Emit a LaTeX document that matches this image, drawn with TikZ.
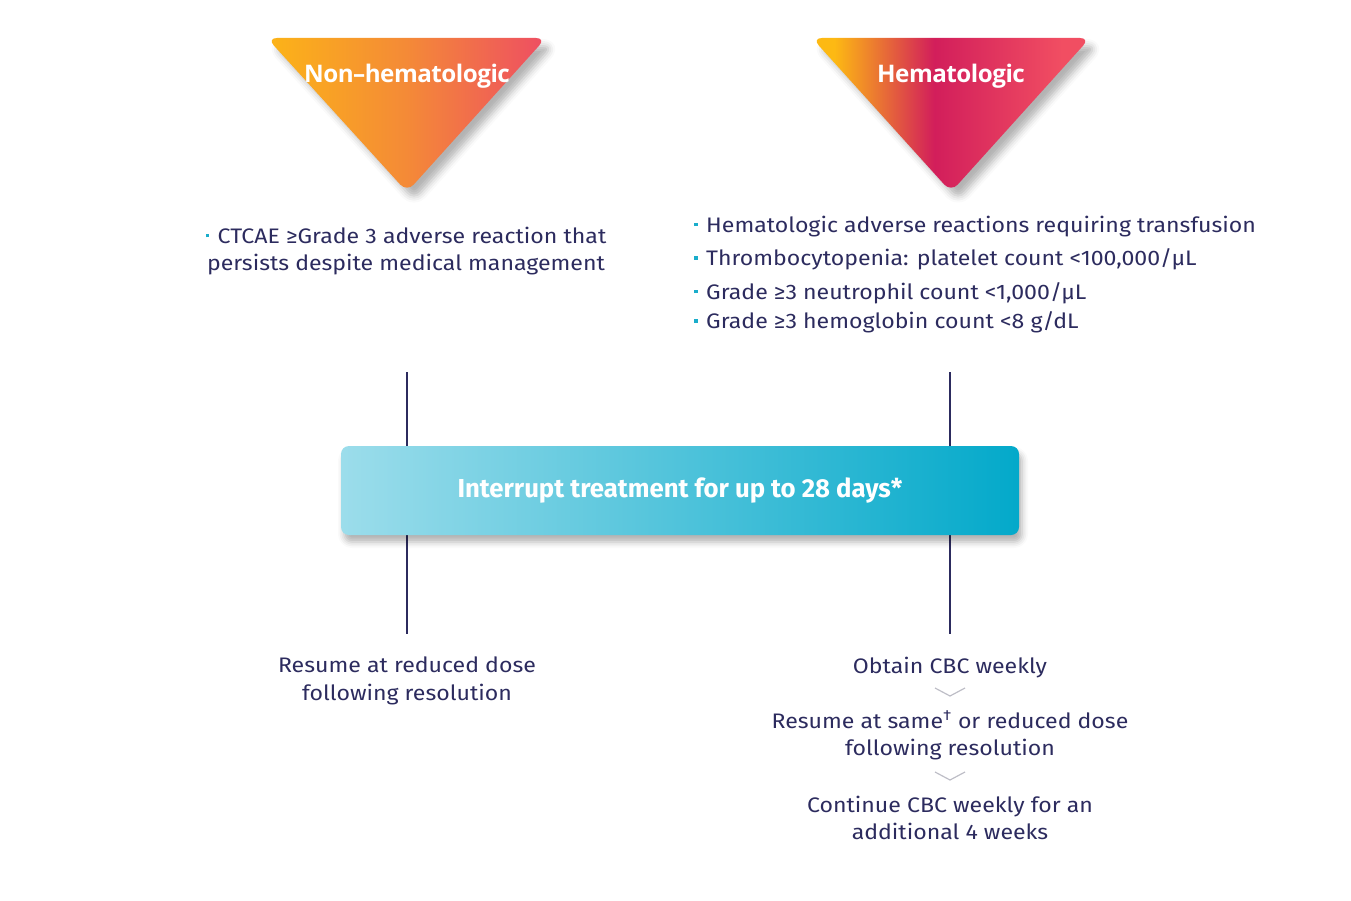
\documentclass[tikz,border=0pt]{standalone}
\usepackage{fontspec}
\setmainfont{Fira Sans}[FakeStretch=1.1]
\newfontfamily\titlefont{Open Sans}[LetterSpace=-2]
\newfontfamily\barfont{Fira Sans}[FakeStretch=0.99]
\usetikzlibrary{shadows.blur}
\definecolor{navy}{HTML}{2C2B5E}
\definecolor{bul}{HTML}{1AADCB}
\definecolor{chev}{HTML}{BDBDC6}
\definecolor{ny}{HTML}{FCB417}
\definecolor{no}{HTML}{F48A37}
\definecolor{np}{HTML}{EE4D63}
\definecolor{hy}{HTML}{FDB913}
\definecolor{hc}{HTML}{D21E5B}
\definecolor{hp}{HTML}{F14E62}
\definecolor{bl}{HTML}{9CDDEB}
\definecolor{br}{HTML}{03A9CA}
\pgfdeclarehorizontalshading{nonhem}{100bp}{color(0bp)=(ny); color(25bp)=(ny); color(50bp)=(no); color(75bp)=(np); color(100bp)=(np)}
\pgfdeclarehorizontalshading{hem}{100bp}{color(0bp)=(hy); color(29bp)=(hy); color(47bp)=(hc); color(70bp)=(hp); color(100bp)=(hp)}
\newcommand{\bsq}{\textcolor{bul}{\rule[0.28em]{3.5pt}{3.5pt}}\hspace{8.5pt}}
\tikzset{
  tri/.style={rounded corners=10pt, blur shadow={shadow xshift=7pt, shadow yshift=-8pt, shadow blur radius=7pt, shadow opacity=30}},
  ttl/.style={text=white, font=\titlefont\bfseries\fontsize{24.2}{30}\selectfont, inner sep=0pt},
  body/.style={text=navy, font=\fontsize{21}{27.5}\selectfont, inner sep=0pt},
  vline/.style={draw=navy, line width=1.6pt},
  chevl/.style={draw=chev, line width=1.2pt},
  barbox/.style={rounded corners=8pt, left color=bl, right color=br, minimum width=678pt, minimum height=89pt, inner sep=0pt,
     blur shadow={shadow xshift=3pt, shadow yshift=-7pt, shadow blur radius=6pt, shadow opacity=30},
     text=white, font=\barfont\bfseries\fontsize{26}{30}\selectfont}
}
\begin{document}
\begin{tikzpicture}[x=1pt,y=-1pt]
\useasboundingbox (0,0) rectangle (1351,901);
% triangles
\path[tri, shading=nonhem] (267,38) -- (546,38) -- (407,192) -- cycle;
\path[tri, shading=hem] (812,38) -- (1090,38) -- (951,192) -- cycle;
\node[ttl] (t1) at (407,76) {Non–hematologic};
\node[ttl] (t2) at (951,76) {Hematologic};
% criteria
\node[body, align=center] (c1) at (406,251) {\bsq CTCAE ≥Grade 3 adverse reaction that\\persists despite medical management};
\node[body, align=left, anchor=north west, font=\fontsize{21}{33.5}\selectfont] (c2) at (694,215.5) {\bsq Hematologic adverse reactions requiring transfusion\\\bsq Thrombocytopenia: platelet count <100,000/µL\\\bsq Grade ≥3 neutrophil count <1,000/µL\\[-4pt]\bsq Grade ≥3 hemoglobin count <8 g/dL};
% vertical lines
\coordinate (a1) at (407,372);
\coordinate (a2) at (407,634);
\coordinate (b1) at (950,372);
\coordinate (b2) at (950,634);
\draw[vline] (a1) -- (a2);
\draw[vline] (b1) -- (b2);
% bar
\node[barbox] (bar) at (680,490.5) {\raisebox{-1.5pt}{Interrupt treatment for up to 28 days*}};
% outcomes
\node[body, align=center] (r1) at (407,681) {Resume at reduced dose\\following resolution};
\node[body] (h1) at (950,668) {Obtain CBC weekly};
\node[body, align=center] (h2) at (950,735.5) {Resume at same\textsuperscript{†} or reduced dose\\following resolution};
\node[body, align=center] (h3) at (950,818) {Continue CBC weekly for an\\additional 4 weeks};
% chevrons
\coordinate (v1l) at (935,688); \coordinate (v1m) at (950,696); \coordinate (v1r) at (965,688);
\coordinate (v2l) at (935,772); \coordinate (v2m) at (950,780); \coordinate (v2r) at (965,772);
\draw[chevl] (v1l) -- (v1m) -- (v1r);
\draw[chevl] (v2l) -- (v2m) -- (v2r);
\end{tikzpicture}
\end{document}
